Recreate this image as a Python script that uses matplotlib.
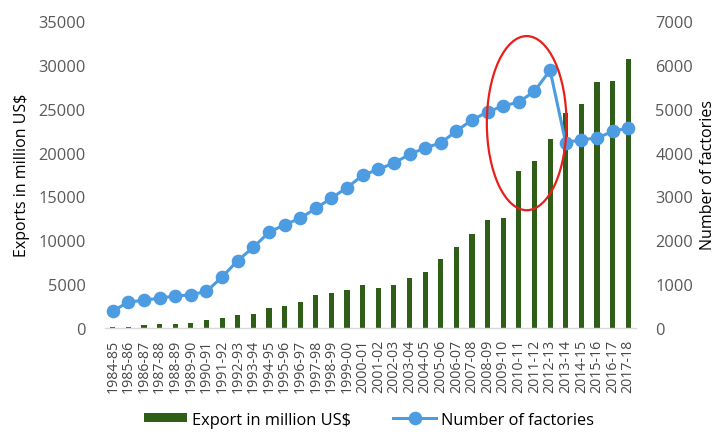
import matplotlib
matplotlib.use("Agg")
import matplotlib.pyplot as plt
from matplotlib.patches import Ellipse, Patch
from matplotlib.lines import Line2D
import numpy as np

plt.rcParams['font.family'] = ['Open Sans', 'DejaVu Sans']

years = ["1984-85", "1985-86", "1986-87", "1987-88", "1988-89", "1989-90", "1990-91",
         "1991-92", "1992-93", "1993-94", "1994-95", "1995-96", "1996-97", "1997-98",
         "1998-99", "1999-00", "2000-01", "2001-02", "2002-03", "2003-04", "2004-05",
         "2005-06", "2006-07", "2007-08", "2008-09", "2009-10", "2010-11", "2011-12",
         "2012-13", "2013-14", "2014-15", "2015-16", "2016-17", "2017-18"]
exports = [116, 131, 299, 434, 471, 624, 867, 1183, 1445, 1556, 2228, 2547, 3001, 3782,
           4020, 4349, 4860, 4584, 4912, 5686, 6418, 7901, 9211, 10700, 12348, 12497,
           17914, 19090, 21516, 24492, 25491, 28094, 28150, 30615]
factories = [384, 594, 629, 685, 725, 759, 834, 1163, 1537, 1839, 2182, 2353, 2503, 2726,
             2963, 3200, 3480, 3618, 3760, 3957, 4107, 4220, 4490, 4743, 4925, 5063,
             5150, 5400, 5876, 4222, 4296, 4328, 4482, 4560]
left_ticks = [0, 5000, 10000, 15000, 20000, 25000, 30000, 35000]
right_ticks = [0, 1000, 2000, 3000, 4000, 5000, 6000, 7000]

bar_color = "#2e5e17"
line_color = "#4d9be0"
tick_color = "#595959"

fig = plt.figure(figsize=(7.21, 4.39), dpi=100)
ax = fig.add_axes([0.1456, 0.2506, 0.7365, 0.6994])
x = np.arange(len(years))
ax.bar(x, exports, width=0.33, color=bar_color, zorder=2)
ax.set_xlim(-0.5, len(years) - 0.5)
ax.set_ylim(0, 35000)
ax.set_yticks(left_ticks)
ax.set_xticks(x)
ax.set_xticklabels(years, rotation=90, fontsize=10.2, color="#454545")
ax.tick_params(axis='y', labelsize=11.8, colors=tick_color, length=0, pad=14)
ax.tick_params(axis='x', length=0, pad=8)
for s in ['top', 'right', 'left']:
    ax.spines[s].set_visible(False)
ax.spines['bottom'].set_color('#d9d9d9')
ax.spines['bottom'].set_linewidth(1.0)
ax.set_ylabel("Exports in million US$", fontsize=11.5, color='black', labelpad=6)

ax2 = ax.twinx()
ax2.plot(x, factories, color=line_color, lw=2.2, marker='o', markersize=8.8, zorder=3)
ax2.set_ylim(0, 7000)
ax2.set_yticks(right_ticks)
ax2.tick_params(axis='y', labelsize=11.8, colors=tick_color, length=0, pad=14)
for s in ['top', 'right', 'left', 'bottom']:
    ax2.spines[s].set_visible(False)
ax2.set_ylabel("Number of factories", fontsize=11.5, color='black', labelpad=5)

# red ellipse highlight around 2010-13
ell = Ellipse((26.5, 4670), width=5.1, height=3970, fill=False, edgecolor='#e8201c', lw=1.6, zorder=4)
ax2.add_patch(ell)

handles = [Patch(facecolor=bar_color, edgecolor='none'),
           Line2D([0], [0], color=line_color, lw=2.2, marker='o', markersize=8.8)]
fig.legend(handles, ["Export in million US$", "Number of factories"], loc='lower center',
           bbox_to_anchor=(0.512, -0.01), ncol=2, frameon=False, fontsize=11.8,
           columnspacing=2.6, handlelength=2.6, handleheight=0.5, handletextpad=0.3)

fig.savefig("out.png", dpi=100)
